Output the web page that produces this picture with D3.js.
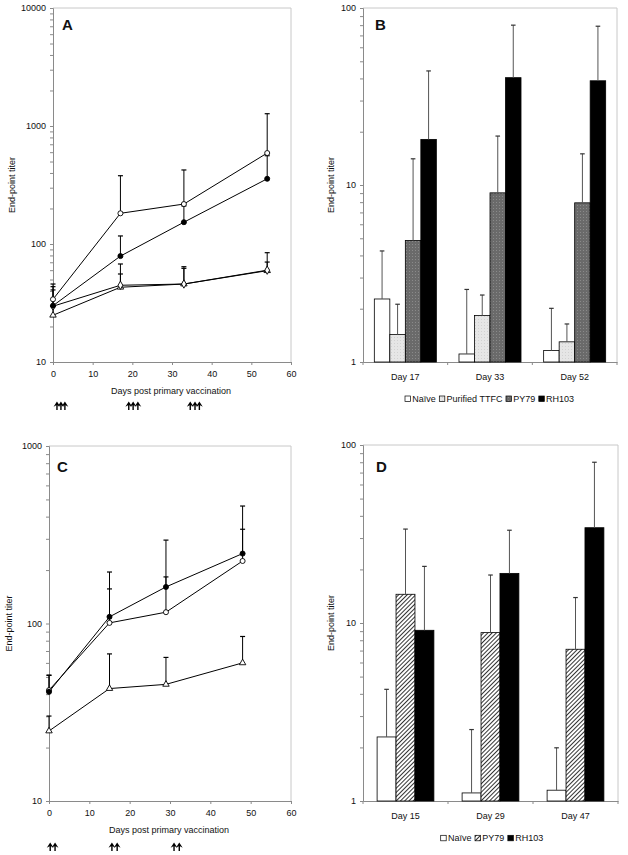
<!DOCTYPE html>
<html><head><meta charset="utf-8">
<script src="https://cdn.jsdelivr.net/npm/d3@7"></script>
<style>
body{margin:0;background:#fff}
text{font-family:"Liberation Sans",Arial,sans-serif;fill:#111}
</style>
</head><body>
<svg id="c" width="628" height="855"></svg>
<script>
// ---------- DATA ----------
// Panel A (line chart, log scale)
const daysA = [0, 17, 33, 54];
const A_openCircle = [34, 182, 218, 590];
const A_openCircleErr = [45.8, 379, 424, 1271];
const A_filledCircle = [30, 79, 153, 357];
const A_filledCircleErr = [43.5, 117, 210, 560];
const A_diamond = [29.7, 44.7, 45.8, 60];
const A_diamondErr = [40.8, 67.7, 64.2, 84.4];
const A_triangle = [24.9, 43, 45.8, 59.4];
const A_triangleErr = [30, 55.7, 62.2, 70.3];
const vaccA = [1, 2, 3, 19.1, 20.2, 21.4, 34.6, 35.8, 36.9];
const yTicksA = [10, 100, 1000, 10000];
const xTicksLine = [0, 10, 20, 30, 40, 50, 60];

// Panel B (bar chart)
const catsB = ["Day 17", "Day 33", "Day 52"];
const seriesB = ["Naïve", "Purified TTFC", "PY79", "RH103"];
const B_naive = [2.27, 1.11, 1.16];
const B_naiveErr = [4.24, 2.57, 2.01];
const B_purified = [1.43, 1.83, 1.30];
const B_purifiedErr = [2.12, 2.39, 1.64];
const B_py79 = [4.86, 9.03, 7.93];
const B_py79Err = [14.06, 18.9, 15.0];
const B_rh103 = [18.1, 40.4, 38.8];
const B_rh103Err = [44.1, 80, 78.9];
const yTicksBar = [1, 10, 100];

// Panel C (line chart)
const daysC = [0, 15, 29, 48];
const C_filledCircle = [41.2, 109, 160.7, 247.7];
const C_filledCircleErr = [51.2, 195, 295, 459];
const C_openCircle = [42.1, 100.8, 115.8, 225];
const C_openCircleErr = [51, 156.6, 183, 339.6];
const C_triangle = [24.8, 43, 45.4, 60];
const C_triangleErr = [30.1, 67.4, 64.4, 84.5];
const vaccC = [0.3, 1.5, 15.6, 16.9, 31, 32.3];
const yTicksC = [10, 100, 1000];

// Panel D (bar chart)
const catsD = ["Day 15", "Day 29", "Day 47"];
const seriesD = ["Naïve", "PY79", "RH103"];
const D_naive = [2.29, 1.11, 1.15];
const D_naiveErr = [4.24, 2.52, 1.99];
const D_py79 = [14.5, 8.83, 7.12];
const D_py79Err = [33.7, 18.6, 13.9];
const D_rh103 = [9.1, 19.0, 34.3];
const D_rh103Err = [20.8, 33.2, 80];

// ---------- DRAW ----------
const svg = d3.select("#c");
const defs = svg.append("defs");
const pd = defs.append("pattern").attr("id","dots").attr("width",3).attr("height",3).attr("patternUnits","userSpaceOnUse");
pd.append("rect").attr("width",3).attr("height",3).attr("fill","#6a6a6a");
pd.append("rect").attr("x",1).attr("y",1).attr("width",1).attr("height",1).attr("fill","#8a8a8a");
const pl = defs.append("pattern").attr("id","light").attr("width",3).attr("height",3).attr("patternUnits","userSpaceOnUse");
pl.append("rect").attr("width",3).attr("height",3).attr("fill","#e6e6e6");
pl.append("rect").attr("x",1).attr("y",1).attr("width",1).attr("height",1).attr("fill","#d2d2d2");
const ph = defs.append("pattern").attr("id","hatch").attr("width",3).attr("height",3)
  .attr("patternUnits","userSpaceOnUse").attr("patternTransform","rotate(45)");
ph.append("rect").attr("width",3).attr("height",3).attr("fill","#fff");
ph.append("line").attr("x1",0).attr("y1",0).attr("x2",0).attr("y2",3).attr("stroke","#000").attr("stroke-width",1.6);

const FS = 9;
const AXIS_COL = "#8a8a8a";
const FRAME_COL = "#c8c8c8";

function minorLogTicks(lo, hi) {
  const t = [];
  for (let p = lo; p < hi; p *= 10) for (let k = 1; k < 10; k++) t.push(p * k);
  t.push(hi);
  return t;
}

function frame(g, L, R, T, B) {
  g.append("path").attr("d", `M${L},${T}H${R}V${B}`).attr("fill","none").attr("stroke",FRAME_COL).attr("stroke-width",1);
}

function yAxisLog(g, y, L, lo, hi, majors, titleX) {
  const ax = d3.axisLeft(y).tickValues(minorLogTicks(lo, hi)).tickSize(3)
    .tickFormat(d => majors.includes(d) ? d3.format("d")(d) : "");
  const a = g.append("g").attr("transform", `translate(${L},0)`).call(ax);
  a.select(".domain").attr("stroke", AXIS_COL);
  a.selectAll(".tick line").attr("stroke", AXIS_COL);
  a.selectAll(".tick text").attr("font-size", FS).attr("font-family","Liberation Sans, Arial").attr("fill","#111").attr("dx", -1);
  const [y0, y1] = y.range();
  g.append("text").attr("transform", `translate(${titleX},${(y0 + y1) / 2}) rotate(-90)`)
    .attr("text-anchor","middle").attr("font-size", FS).text("End-point titer");
}

function letter(g, x, y, s) {
  g.append("text").attr("x", x).attr("y", y).attr("font-size", 15).attr("font-weight","bold").text(s);
}

function linePanel(opt) {
  const g = svg.append("g");
  const x = d3.scaleLinear().domain([0, 60]).range([opt.L, opt.R]);
  const y = d3.scaleLog().domain([opt.ymin, opt.ymax]).range([opt.B, opt.T]);
  frame(g, opt.L, opt.R, opt.T, opt.B);
  yAxisLog(g, y, opt.L, opt.ymin, opt.ymax, opt.yTicks, opt.titleX);
  const xa = g.append("g").attr("transform", `translate(0,${opt.B})`)
    .call(d3.axisBottom(x).tickValues(xTicksLine).tickSize(3).tickPadding(6));
  xa.select(".domain").attr("stroke", AXIS_COL);
  xa.selectAll(".tick line").attr("stroke", AXIS_COL);
  xa.selectAll(".tick text").attr("font-size", FS).attr("font-family","Liberation Sans, Arial").attr("fill","#111");
  g.append("text").attr("x", (opt.L + opt.R) / 2 - 1).attr("y", opt.B + 32).attr("text-anchor","middle")
    .attr("font-size", FS).text("Days post primary vaccination");
  // lines
  const line = d3.line().x(d => x(d[0])).y(d => y(d[1]));
  opt.series.forEach(s => {
    g.append("path").datum(opt.days.map((d, i) => [d, s.v[i]])).attr("d", line)
      .attr("fill","none").attr("stroke","#000").attr("stroke-width",1);
  });
  // error bars
  opt.series.forEach(s => {
    opt.days.forEach((d, i) => {
      const cx = x(d), y1 = y(s.v[i]), y2 = y(s.e[i]);
      g.append("line").attr("x1",cx).attr("x2",cx).attr("y1",y1).attr("y2",y2).attr("stroke","#000").attr("stroke-width",1);
      g.append("line").attr("x1",cx-2.5).attr("x2",cx+2.5).attr("y1",y2).attr("y2",y2).attr("stroke","#000").attr("stroke-width",1.2);
    });
  });
  // markers
  opt.series.forEach(s => {
    opt.days.forEach((d, i) => {
      const cx = x(d), cy = y(s.v[i]);
      let sym;
      if (s.m === "filled" || s.m === "open") sym = d3.symbol(d3.symbolCircle, 20);
      else if (s.m === "diamond") sym = d3.symbol(d3.symbolDiamond, 20);
      else sym = d3.symbol(d3.symbolTriangle, 18);
      g.append("path").attr("d", sym()).attr("transform", `translate(${cx},${cy})`)
        .attr("fill", s.m === "filled" ? "#000" : "#fff").attr("stroke","#000").attr("stroke-width",0.9);
    });
  });
  // vaccination arrows
  opt.vacc.forEach(d => {
    const ax = x(d), ay = opt.arrowY;
    g.append("path").attr("d", `M${ax},${ay} L${ax+3.4},${ay+5.2} L${ax+0.7},${ay+3.8} L${ax+0.7},${ay+8.5} L${ax-0.7},${ay+8.5} L${ax-0.7},${ay+3.8} L${ax-3.4},${ay+5.2} Z`)
      .attr("fill","#000");
  });
  letter(g, opt.letterX, opt.letterY, opt.letter);
}

function barPanel(opt) {
  const g = svg.append("g");
  const x = d3.scaleBand().domain(opt.cats).range([opt.L, opt.R]).padding(0);
  const xi = d3.scaleBand().domain(opt.series.map(s => s.name)).range([0, x.bandwidth()]).paddingInner(0).paddingOuter(opt.outer);
  const y = d3.scaleLog().domain([1, 100]).range([opt.B, opt.T]);
  frame(g, opt.L, opt.R, opt.T, opt.B);
  yAxisLog(g, y, opt.L, 1, 100, yTicksBar, opt.titleX);
  const xa = g.append("g").attr("transform", `translate(0,${opt.B})`)
    .call(d3.axisBottom(x).tickSize(0).tickPadding(12));
  xa.select(".domain").attr("stroke", AXIS_COL);
  xa.selectAll(".tick text").attr("font-size", FS).attr("font-family","Liberation Sans, Arial").attr("fill","#111");
  const seps = opt.cats.map(c => x(c)).concat([x(opt.cats[opt.cats.length-1]) + x.bandwidth()]);
  seps.forEach(s => g.append("line").attr("x1",s).attr("x2",s).attr("y1",opt.B).attr("y2",opt.B+3).attr("stroke",AXIS_COL));
  opt.series.forEach(s => {
    opt.cats.forEach((c, i) => {
      const bx = x(c) + xi(s.name), bw = xi.bandwidth();
      g.append("rect").attr("x", bx).attr("y", y(s.v[i])).attr("width", bw).attr("height", opt.B - y(s.v[i]))
        .attr("fill", s.fill).attr("stroke","#000").attr("stroke-width",0.8);
    });
  });
  opt.series.forEach(s => {
    opt.cats.forEach((c, i) => {
      const cx = x(c) + xi(s.name) + xi.bandwidth() / 2, y1 = y(s.v[i]), y2 = y(s.e[i]);
      g.append("line").attr("x1",cx).attr("x2",cx).attr("y1",y1).attr("y2",y2).attr("stroke","#555").attr("stroke-width",1);
      g.append("line").attr("x1",cx-2.3).attr("x2",cx+2.3).attr("y1",y2).attr("y2",y2).attr("stroke","#333").attr("stroke-width",1.2);
    });
  });
  // legend
  let lx = opt.legendX;
  const ly = opt.legendY;
  opt.series.forEach(s => {
    g.append("rect").attr("x", lx).attr("y", ly - 3).attr("width", 5.5).attr("height", 5.5)
      .attr("fill", s.fill).attr("stroke","#000").attr("stroke-width",0.7);
    const t = g.append("text").attr("x", lx + 7.3).attr("y", ly + 3).attr("font-size", FS).text(s.name);
    lx += 7.3 + t.node().getComputedTextLength() + 3.5;
  });
  letter(g, opt.letterX, opt.letterY, opt.letter);
}

linePanel({
  L: 53, R: 291, T: 8, B: 362, ymin: 10, ymax: 10000, yTicks: yTicksA, titleX: 15,
  days: daysA, vacc: vaccA, arrowY: 401.5, letter: "A", letterX: 62, letterY: 30,
  series: [
    { v: A_triangle, e: A_triangleErr, m: "triangle" },
    { v: A_diamond, e: A_diamondErr, m: "diamond" },
    { v: A_filledCircle, e: A_filledCircleErr, m: "filled" },
    { v: A_openCircle, e: A_openCircleErr, m: "open" }
  ]
});

barPanel({
  L: 363, R: 617, T: 8, B: 362, titleX: 334, cats: catsB, outer: 0.73,
  legendX: 405, legendY: 399, letter: "B", letterX: 375, letterY: 30,
  series: [
    { name: seriesB[0], v: B_naive, e: B_naiveErr, fill: "#fff" },
    { name: seriesB[1], v: B_purified, e: B_purifiedErr, fill: "url(#light)" },
    { name: seriesB[2], v: B_py79, e: B_py79Err, fill: "url(#dots)" },
    { name: seriesB[3], v: B_rh103, e: B_rh103Err, fill: "#000" }
  ]
});

linePanel({
  L: 49, R: 291, T: 446, B: 801, ymin: 10, ymax: 1000, yTicks: yTicksC, titleX: 12,
  days: daysC, vacc: vaccC, arrowY: 842.5, letter: "C", letterX: 57, letterY: 472,
  series: [
    { v: C_triangle, e: C_triangleErr, m: "triangle" },
    { v: C_openCircle, e: C_openCircleErr, m: "open" },
    { v: C_filledCircle, e: C_filledCircleErr, m: "filled" }
  ]
});

barPanel({
  L: 363, R: 618, T: 445, B: 801, titleX: 334, cats: catsD, outer: 0.745,
  legendX: 440.7, legendY: 838.3, letter: "D", letterX: 376, letterY: 472,
  series: [
    { name: seriesD[0], v: D_naive, e: D_naiveErr, fill: "#fff" },
    { name: seriesD[1], v: D_py79, e: D_py79Err, fill: "url(#hatch)" },
    { name: seriesD[2], v: D_rh103, e: D_rh103Err, fill: "#000" }
  ]
});
</script>
</body></html>
